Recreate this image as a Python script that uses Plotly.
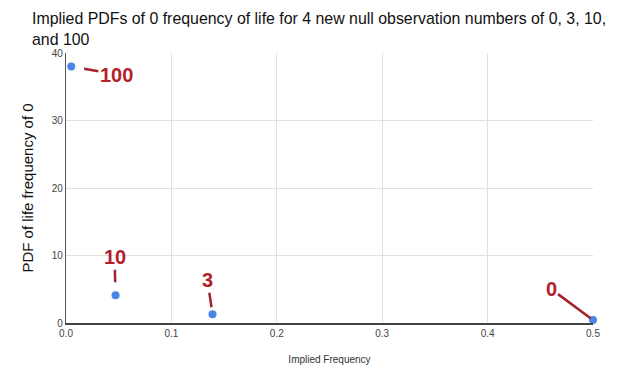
import plotly.graph_objects as go

# Data
observations = ["100", "10", "3", "0"]
implied_freq = [0.005, 0.047, 0.139, 0.5]
pdf_values = [38.0, 4.1, 1.3, 0.45]

# label offsets (pixels) and standoffs for the hand-drawn callouts
label_ax = [45, -1, -5, -42]
label_ay = [8, -38, -34, -31]
label_standoff = [13, 13, 7, 3]

fig = go.Figure()
fig.add_trace(go.Scatter(
    x=implied_freq, y=pdf_values, mode="markers",
    marker=dict(color="#4a86e8", size=8),
    cliponaxis=False,
    hoverinfo="x+y", showlegend=False,
))

red = "#b4202a"
for lab, x, y, ax, ay, so in zip(observations, implied_freq, pdf_values, label_ax, label_ay, label_standoff):
    fig.add_annotation(
        x=x, y=y, xref="x", yref="y", text=f"<b>{lab}</b>",
        showarrow=True, arrowhead=0, arrowwidth=2.5, arrowcolor="#a3222c",
        ax=ax, ay=ay, standoff=so,
        font=dict(family="Liberation Sans, Arial, sans-serif", size=20, color=red),
    )

fig.update_layout(
    width=620, height=386,
    margin=dict(l=66, r=27, t=53, b=63),
    paper_bgcolor="white", plot_bgcolor="white",
    font=dict(family="Liberation Sans, Arial, sans-serif", color="#222"),
    title=dict(
        text="Implied PDFs of 0 frequency of life for 4 new null observation numbers of 0, 3, 10,<br>and 100",
        x=32 / 620, xref="container", xanchor="left", y=1 - 24 / 386, yanchor="top",
        font=dict(size=15.9, color="#111"),
    ),
    xaxis=dict(
        range=[0, 0.5], tickvals=[0, 0.1, 0.2, 0.3, 0.4, 0.5],
        ticktext=["0.0", "0.1", "0.2", "0.3", "0.4", "0.5"],
        showgrid=True, gridcolor="#e0e0e0", gridwidth=1,
        zeroline=False, showline=True, linecolor="#444", linewidth=1.5,
        ticks="", tickfont=dict(size=10, color="#444"),
        automargin=False,
        title=dict(text="Implied Frequency", font=dict(size=10, color="#333"), standoff=18),
    ),
    yaxis=dict(
        range=[0, 40], tickvals=[0, 10, 20, 30, 40],
        showgrid=True, gridcolor="#e0e0e0", gridwidth=1,
        zeroline=False, showline=True, linecolor="#555", linewidth=1.2,
        ticks="", tickfont=dict(size=10, color="#444"),
        automargin=False,
        title=dict(text="PDF of life frequency of 0", font=dict(size=15, color="#111"), standoff=14),
    ),
)

fig.write_html("out.html", config={"displayModeBar": False},
               post_script="document.body.style.margin='0';")
